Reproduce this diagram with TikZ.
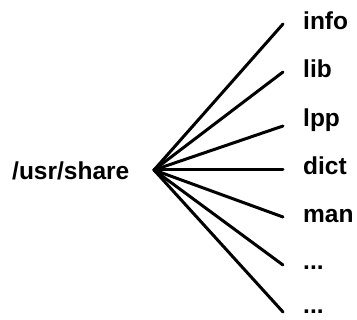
\documentclass[tikz,border=0pt]{standalone}
\usepackage{fontspec}
\setmainfont{Liberation Sans}
\begin{document}
\begin{tikzpicture}[x=1pt,y=-1pt,
  lbl/.style={anchor=base west,inner sep=0pt,font=\fontsize{24.5}{28}\selectfont\bfseries},
  spoke/.style={line width=3pt,line cap=round}]
\useasboundingbox (0,0) rectangle (357,320);
\node[lbl] (root) at (12,180) {/usr/share};
\coordinate (hub) at (154,170);
\node[lbl] (a) at (303,30) {info};
\node[lbl] (b) at (303,78) {lib};
\node[lbl] (c) at (303,127) {lpp};
\node[lbl] (d) at (303,175) {dict};
\node[lbl] (e) at (303,223) {man};
\node[lbl] (f) at (303,270) {...};
\node[lbl] (g) at (303,314) {...};
\coordinate (ea) at (283,24);
\coordinate (eb) at (283,72);
\coordinate (ec) at (283,126);
\coordinate (ed) at (283,170);
\coordinate (ee) at (283,217);
\coordinate (ef) at (283,265);
\coordinate (eg) at (283,312);
\foreach \n in {a,b,c,d,e,f,g}{
  \draw[spoke] (hub) -- (e\n);
}
\end{tikzpicture}
\end{document}
